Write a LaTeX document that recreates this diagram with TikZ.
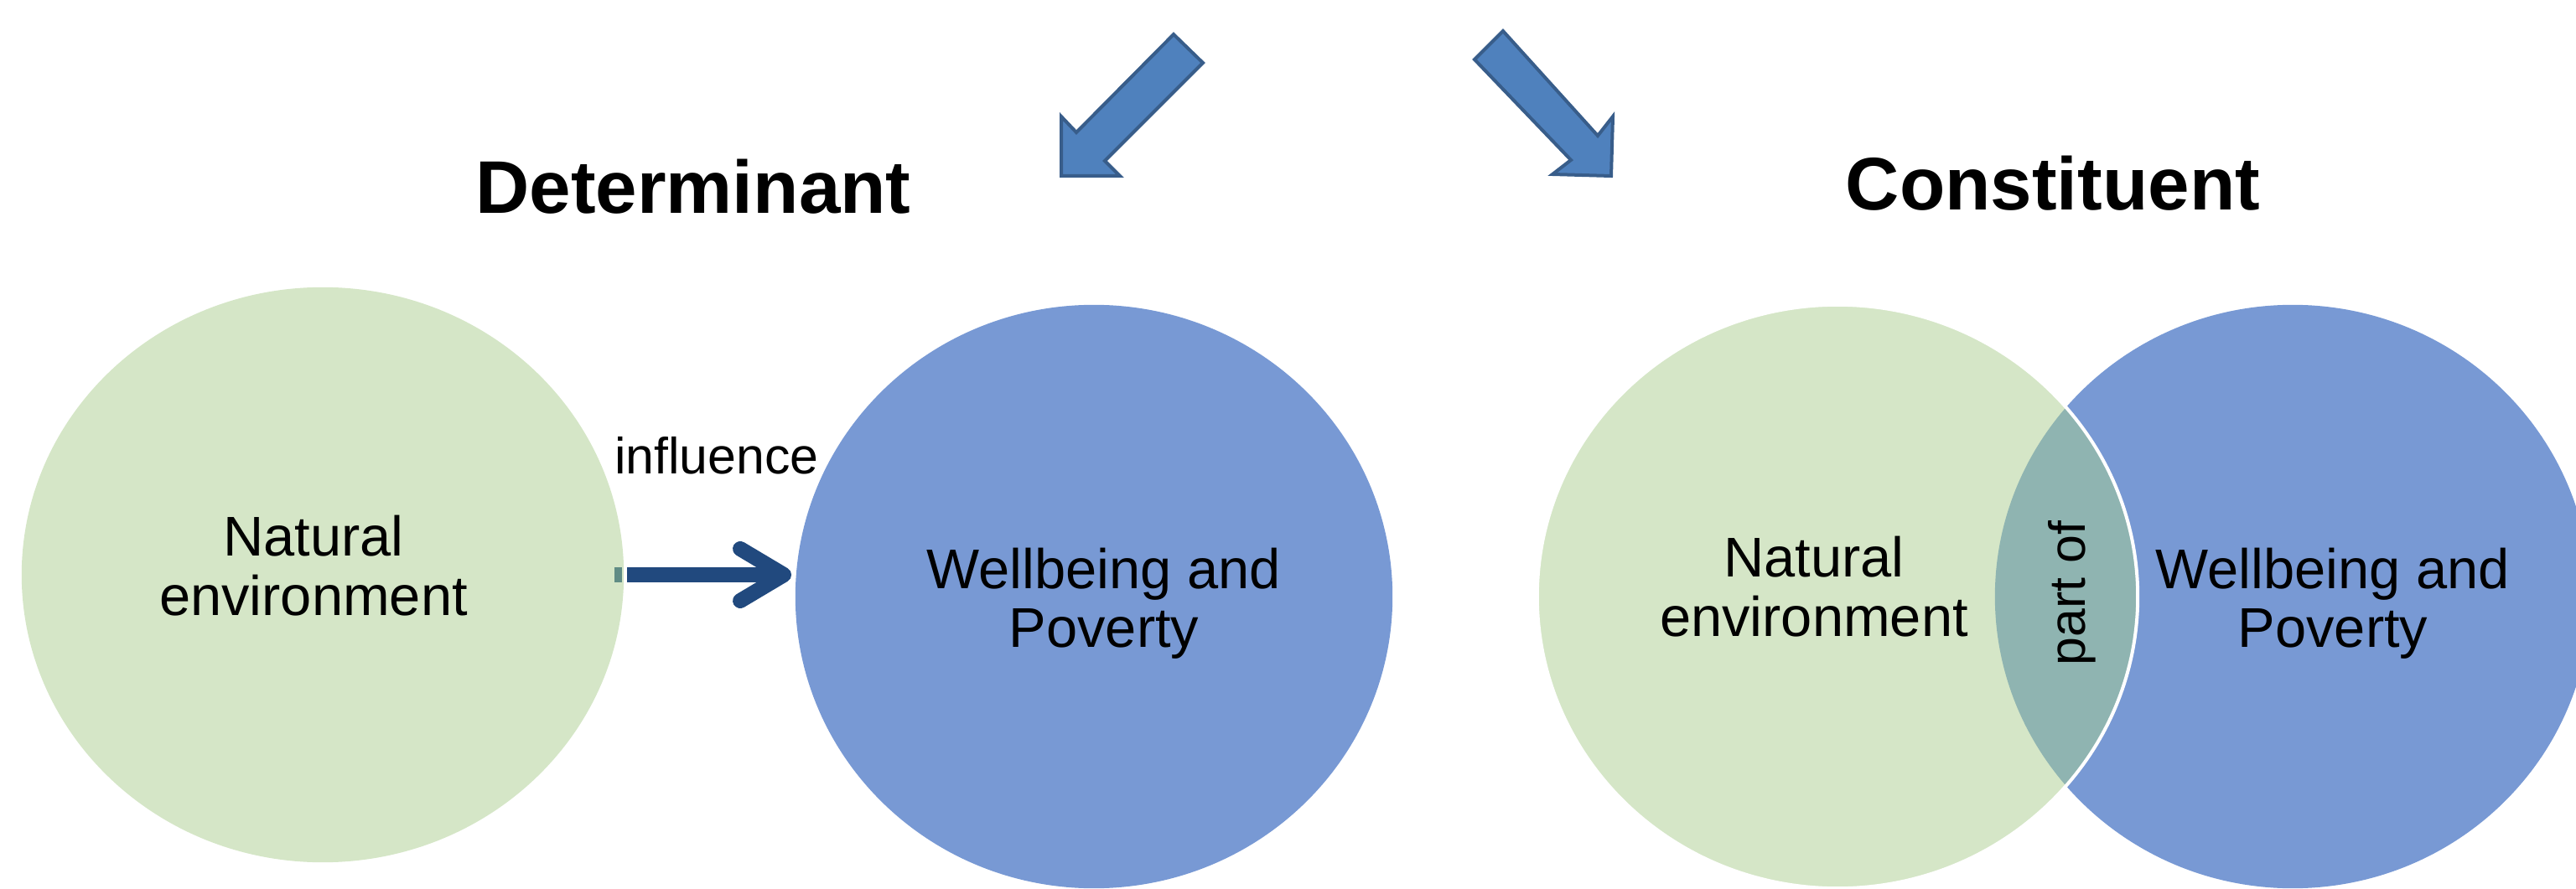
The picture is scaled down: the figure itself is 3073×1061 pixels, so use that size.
\documentclass[tikz,border=0pt]{standalone}
\usepackage{fontspec}
\setmainfont{Liberation Sans}
\usetikzlibrary{shapes.geometric}

\definecolor{envgreen}{RGB}{213,230,199}
\definecolor{wellblue}{RGB}{120,153,212}
\definecolor{overlapteal}{RGB}{143,180,177}
\definecolor{blockfill}{RGB}{79,129,189}
\definecolor{blockedge}{RGB}{56,93,138}
\definecolor{linkblue}{RGB}{33,73,126}
\definecolor{stubteal}{RGB}{96,140,133}

\begin{document}
\begin{tikzpicture}[x=0.01cm, y=-0.01cm,
  disc/.style={ellipse, inner sep=0pt, draw=none},
  blockarrow/.style={fill=blockfill, draw=blockedge, line width=0.04cm, line join=miter},
  link/.style={draw=linkblue, line width=0.18cm},
  titletext/.style={font=\fontsize{25.3}{30}\selectfont\bfseries, inner sep=0pt},
  circtext/.style={font=\fontsize{19}{20}\selectfont, align=center, inner sep=0pt},
  smalltext/.style={font=\fontsize{17.3}{20}\selectfont, inner sep=0pt}]

\useasboundingbox (0,0) rectangle (3073,1061);
\clip (0,0) rectangle (3073,1061);

% two block arrows at the top
\draw[blockarrow] (1400,41) -- (1435,75) -- (1318,192) -- (1336,210) -- (1266,210)
  -- (1266,139) -- (1284,158) -- cycle;
\draw[blockarrow] (1793,37) -- (1906,162) -- (1924,139) -- (1922,210) -- (1852,208)
  -- (1874,191) -- (1759,71) -- cycle;

% headings
\node[titletext, anchor=base] (tdet) at (827,255) {Determinant};
\node[titletext, anchor=base] (tcon) at (2449,251) {Constituent};

% determinant: two separate discs
\node[disc, fill=envgreen, minimum width=7.18cm, minimum height=6.86cm] (g1) at (385,686) {};
\node[disc, fill=wellblue, minimum width=7.12cm, minimum height=6.96cm] (b1) at (1305,712) {};

% constituent: overlapping discs
\node[disc, fill=wellblue, minimum width=7.10cm, minimum height=6.96cm] (b2) at (2735,712) {};
\node[disc, fill=envgreen, minimum width=7.16cm, minimum height=6.96cm] (g2) at (2192,712) {};
\begin{scope}
  \clip (b2.center) ellipse [x radius=3.55cm, y radius=3.48cm];
  \fill[overlapteal] (g2.center) ellipse [x radius=3.58cm, y radius=3.48cm];
\end{scope}
\draw[white, line width=0.04cm] (g2.center) ellipse [x radius=3.58cm, y radius=3.48cm];

% influence arrow
\draw[draw=stubteal, line width=0.18cm] ([xshift=-0.12cm]g1.east) -- ([xshift=-0.03cm]g1.east);
\draw[link] ([xshift=0.03cm]g1.east) -- ([xshift=-0.2cm]g1.east -| b1.west);
\coordinate (tip) at ([xshift=-0.13cm]g1.east -| b1.west);
\draw[link, line cap=round, line join=round] (tip) ++(-52,-31) -- (tip) -- ++(-52,31);
\node[smalltext, anchor=base] (infl) at (855,565) {influence};

% texts in the discs
\node[circtext] (ne1) at (374,675) {Natural\\environment};
\node[circtext] (wp1) at (1317,720) {Wellbeing and\\Poverty};
\node[circtext] (ne2) at (2164,700) {Natural\\environment};
\node[circtext] (wp2) at (2783,720) {Wellbeing and\\Poverty};
\node[smalltext, anchor=base, rotate=90] (partof) at (2487,708) {part of};

\end{tikzpicture}
\end{document}
